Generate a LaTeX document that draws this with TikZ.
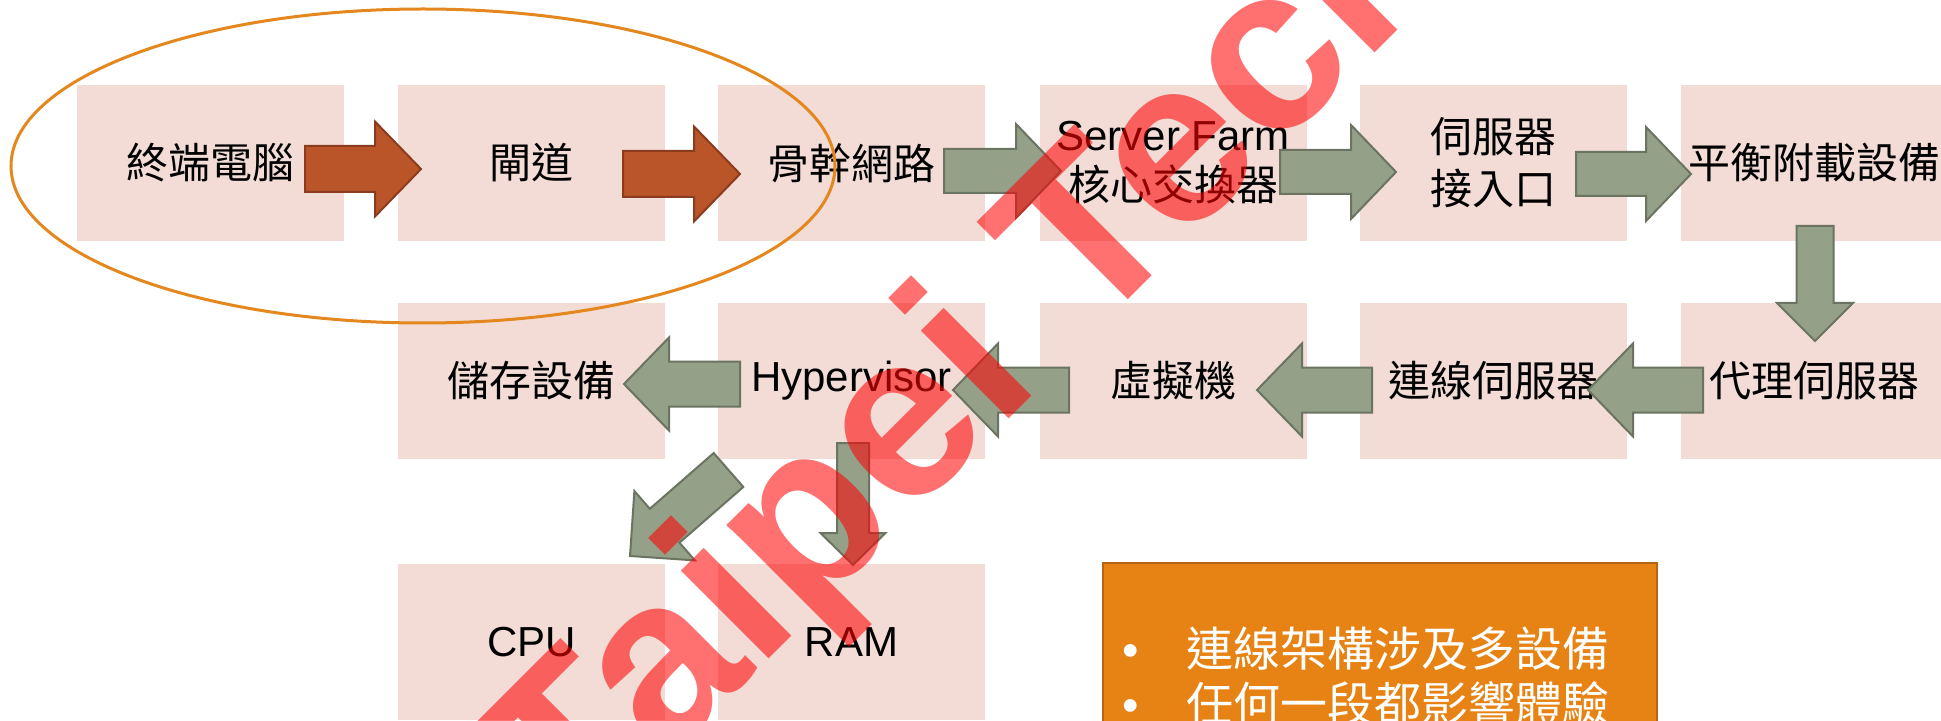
\documentclass[tikz,border=0pt]{standalone}
\usepackage{fontspec}
\setmainfont{Liberation Sans}
\newfontfamily\cjk{Noto Sans CJK TC}
\usetikzlibrary{calc}

\definecolor{boxpink}{RGB}{242,220,213}
\definecolor{arrowgreen}{RGB}{149,160,137}
\definecolor{arrowgreenline}{RGB}{106,116,96}
\definecolor{arrowbrown}{RGB}{186,85,42}
\definecolor{arrowbrownline}{RGB}{139,60,30}
\definecolor{ringorange}{RGB}{228,135,30}
\definecolor{noteorange}{RGB}{230,131,20}
\definecolor{noteline}{RGB}{181,101,20}

\tikzset{
  stage/.style={fill=boxpink, minimum width=133.5pt, minimum height=78pt,
    inner sep=0pt, outer sep=0pt, align=center, font=\fontsize{21pt}{25pt}\selectfont},
  cjkstage/.style={stage, font=\fontsize{21pt}{26pt}\cjk},
  greenarrow/.style={fill=arrowgreen, draw=arrowgreenline, line width=1pt},
  brownarrow/.style={fill=arrowbrown, draw=arrowbrownline, line width=1pt},
  ringline/.style={draw=ringorange, line width=1.5pt},
  notebox/.style={fill=noteorange, draw=noteline, line width=1pt, text=white,
    align=left, text width=258pt, inner xsep=9.5pt, minimum height=113pt,
    font=\fontsize{23.5pt}{27.5pt}\cjk},
  watermark/.style={text=red, text opacity=0.56, inner sep=0pt,
    font=\fontsize{117.5pt}{117.5pt}\bfseries\selectfont}
}

% block arrow: style, tail, tip, shaft half width, head half width, head length
\newcommand\blockarrow[6]{%
  \coordinate (ba-t) at #2;
  \coordinate (ba-p) at #3;
  \coordinate (ba-h) at ($(ba-p)!#6!(ba-t)$);
  \draw[#1] ($(ba-t)!#4!90:(ba-p)$) -- ($(ba-h)!#4!90:(ba-p)$)
    -- ($(ba-h)!#5!90:(ba-p)$) -- (ba-p) -- ($(ba-h)!#5!-90:(ba-p)$)
    -- ($(ba-h)!#4!-90:(ba-p)$) -- ($(ba-t)!#4!-90:(ba-p)$) -- cycle;
}

\begin{document}
\begin{tikzpicture}[x=0.5pt, y=-0.5pt]
\useasboundingbox (0,0) rectangle (1941,721);

% first row
\node[cjkstage] (term) at (210.5,163) {終端電腦};
\node[cjkstage] (gate) at (531.5,163) {閘道};
\node[cjkstage] (backbone) at (851.5,163) {骨幹網路};
\node[stage] (farm) at (1173,163) {Server Farm\\{\cjk 核心交換器}};
\node[cjkstage] (entry) at (1493.5,163) {伺服器\\接入口};
\node[cjkstage] (balance) at (1814.5,163) {平衡附載設備};

% second row
\node[cjkstage] (storage) at (531.5,381) {儲存設備};
\node[stage] (hyper) at (851.5,381) {Hypervisor};
\node[cjkstage] (vm) at (1173,381) {虛擬機};
\node[cjkstage] (conn) at (1493.5,381) {連線伺服器};
\node[cjkstage] (proxy) at (1814.5,381) {代理伺服器};

% third row
\node[stage] (cpu) at (531.5,642) {CPU};
\node[stage] (ram) at (851.5,642) {RAM};

\blockarrow{brownarrow}{($(term.east)+(-39,6)$)}{($(gate.west)+(23,6)$)}{11.5pt}{23.75pt}{23pt}
\blockarrow{brownarrow}{($(gate.east)+(-42,11)$)}{($(backbone.west)+(22,11)$)}{11.5pt}{23.75pt}{23pt}
\blockarrow{greenarrow}{($(backbone.east)+(-41,8)$)}{($(farm.west)+(21.5,8)$)}{11pt}{23.5pt}{22.5pt}
\blockarrow{greenarrow}{($(farm.east)+(-26.5,9)$)}{($(entry.west)+(36,9)$)}{11pt}{23.5pt}{22.5pt}
\blockarrow{greenarrow}{($(entry.east)+(-51,11)$)}{($(balance.west)+(10,11)$)}{11pt}{23.5pt}{22.5pt}
\blockarrow{greenarrow}{($(balance.south)+(0.5,-15)$)}{($(proxy.north)+(0.5,38)$)}{9.25pt}{19pt}{19pt}
\blockarrow{greenarrow}{($(proxy.west)+(22,9)$)}{($(conn.east)+(-39,9)$)}{11.25pt}{23.25pt}{22.5pt}
\blockarrow{greenarrow}{($(conn.west)+(12,9)$)}{($(vm.east)+(-49.5,9)$)}{11.25pt}{23.25pt}{22.5pt}
\blockarrow{greenarrow}{($(vm.west)+(29.5,9)$)}{($(hyper.east)+(-32,9)$)}{11.25pt}{23.25pt}{22.5pt}
\blockarrow{greenarrow}{($(hyper.west)+(22,3)$)}{($(storage.east)+(-41,3)$)}{11.25pt}{23.25pt}{22.5pt}
\blockarrow{greenarrow}{($(hyper.south)+(1.5,-16)$)}{($(ram.north)+(1.5,1)$)}{8pt}{16.25pt}{16pt}
\blockarrow{greenarrow}{($(hyper.south west)+(10.5,11)$)}{($(cpu.north)+(98.5,-8)$)}{11.25pt}{23pt}{23pt}

\draw[ringline] (423,166) ellipse [x radius=206pt, y radius=78.5pt];

\node[notebox, anchor=north west] (note) at (1102,562)
  {\makebox[32pt][l]{\rmfamily •}連線架構涉及多設備\\\makebox[32pt][l]{\rmfamily •}任何一段都影響體驗};

\node[watermark, anchor=base west, rotate=45] (wm) at (575.5,852.5) {Taipei Tech};
\end{tikzpicture}
\end{document}
